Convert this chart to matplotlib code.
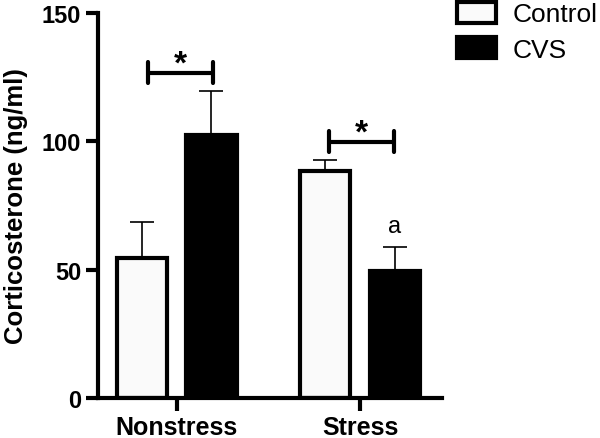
import numpy as np
import matplotlib.pyplot as plt
from matplotlib.patches import Patch

plt.rcParams['font.family'] = ['Liberation Sans', 'DejaVu Sans']

groups = ["Nonstress", "Stress"]
control_mean = [54.6, 88.4]
control_sem = [14.0, 4.3]
cvs_mean = [102.2, 49.3]
cvs_sem = [17.1, 9.5]

# significance brackets: (x_left, x_right, y)
brackets = [(-0.158, 0.197, 126.6), (0.83, 1.186, 99.8)]

fig = plt.figure(figsize=(6.0, 4.39), dpi=100)
ax = fig.add_axes([0.163, 0.091, 0.574, 0.878])

x = np.arange(len(groups))
w = 0.273
off = 0.19
lw = 3.0

ax.bar(x - off, control_mean, w, color="#fafafa", edgecolor="black", linewidth=lw, zorder=2)
ax.bar(x + off, cvs_mean, w, color="black", edgecolor="black", linewidth=lw, zorder=2)
ax.errorbar(x - off, control_mean, yerr=[np.zeros(2), control_sem], fmt="none",
            ecolor="black", elinewidth=1.2, capsize=8.5, capthick=1.2, zorder=1)
ax.errorbar(x + off, cvs_mean, yerr=[np.zeros(2), cvs_sem], fmt="none",
            ecolor="black", elinewidth=1.2, capsize=8.5, capthick=1.2, zorder=1)

for x0, x1, y in brackets:
    ax.plot([x0, x1], [y, y], color="black", lw=3.0, solid_capstyle="butt")
    for xe in (x0, x1):
        ax.plot([xe, xe], [y - 4, y + 4], color="black", lw=3.0, solid_capstyle="round")
    ax.text((x0 + x1) / 2, y + 3.5, "*", ha="center", va="center", fontsize=24, fontweight="bold")

ax.text(1 + off, 67, "a", ha="center", va="center", fontsize=17)

ax.set_xlim(-0.43, 1.448)
ax.set_ylim(0, 150)
ax.set_yticks([0, 50, 100, 150])
ax.set_xticks(x)
ax.set_xticklabels(groups, fontsize=18, fontweight="bold")
for lab in ax.get_yticklabels():
    lab.set_fontsize(17)
    lab.set_fontweight("bold")
ax.tick_params(axis="both", width=lw, length=9)
ax.tick_params(axis="y", pad=3)
ax.tick_params(axis="x", pad=3.5)
ax.set_ylabel("Corticosterone (ng/ml)", fontsize=18.5, fontweight="bold", labelpad=10)

for s in ("top", "right"):
    ax.spines[s].set_visible(False)
for s in ("left", "bottom"):
    ax.spines[s].set_linewidth(lw)

handles = [Patch(facecolor="#fafafa", edgecolor="black", linewidth=lw, label="Control"),
           Patch(facecolor="black", edgecolor="black", linewidth=lw, label="CVS")]
fig.legend(handles=handles, loc="upper left", bbox_to_anchor=(0.757, 1.0), frameon=False,
           fontsize=19, handlelength=1.5, handleheight=0.85, handletextpad=0.6,
           labelspacing=0.42, borderpad=0.1, borderaxespad=0)

fig.savefig("out.png", dpi=100)
